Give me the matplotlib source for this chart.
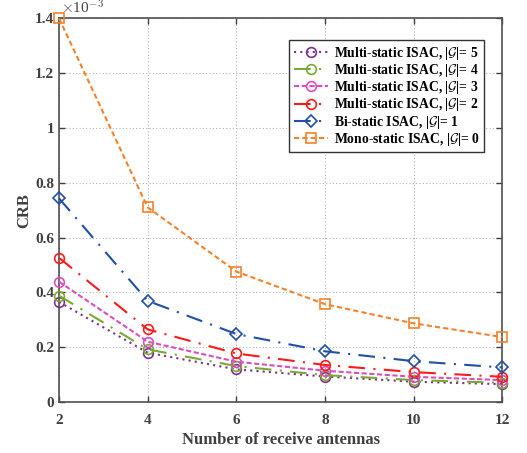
import matplotlib
matplotlib.use("Agg")
import matplotlib.pyplot as plt
from matplotlib.ticker import FuncFormatter

plt.rcParams['font.family'] = ['Liberation Serif', 'DejaVu Serif']
plt.rcParams['font.weight'] = 'bold'
plt.rcParams['mathtext.fontset'] = 'cm'

antennas = [2, 4, 6, 8, 10, 12]

crb_multi5 = [0.365e-3, 0.180e-3, 0.119e-3, 0.093e-3, 0.074e-3, 0.065e-3]
crb_multi4 = [0.388e-3, 0.192e-3, 0.131e-3, 0.098e-3, 0.080e-3, 0.070e-3]
crb_multi3 = [0.439e-3, 0.220e-3, 0.147e-3, 0.114e-3, 0.092e-3, 0.080e-3]
crb_multi2 = [0.526e-3, 0.265e-3, 0.177e-3, 0.135e-3, 0.109e-3, 0.092e-3]
crb_bi1 = [0.743e-3, 0.369e-3, 0.248e-3, 0.185e-3, 0.149e-3, 0.126e-3]
crb_mono0 = [1.400e-3, 0.710e-3, 0.476e-3, 0.357e-3, 0.287e-3, 0.237e-3]

labels = [
    r"Multi-static ISAC, |$\mathcal{G}$|= 5",
    r"Multi-static ISAC, |$\mathcal{G}$|= 4",
    r"Multi-static ISAC, |$\mathcal{G}$|= 3",
    r"Multi-static ISAC, |$\mathcal{G}$|= 2",
    r"Bi-static ISAC, |$\mathcal{G}$|= 1",
    r"Mono-static ISAC, |$\mathcal{G}$|= 0",
]

fig = plt.figure(figsize=(5.27, 4.53), dpi=100)
ax = fig.add_axes([0.112, 0.1126, 0.841, 0.847])

styles = [
    (crb_multi5, '#7E2F8E', (0, (1, 2)), 'o'),
    (crb_multi4, '#77AC30', (0, (8, 4, 1, 4)), 'o'),
    (crb_multi3, '#D94FBF', (0, (2.5, 1.2)), 'o'),
    (crb_multi2, '#FF1A1A', (0, (8, 4, 1, 4)), 'o'),
    (crb_bi1, '#1F4FA8', (0, (8, 4, 1, 4)), 'D'),
    (crb_mono0, '#F5822A', (0, (2.5, 1.5)), 's'),
]

for (vals, color, ls, mk), lab in zip(styles, labels):
    ax.plot(antennas, vals, color=color, linestyle=ls, linewidth=1.5,
            marker=mk, markersize=7 if mk != 'D' else 6,
            markerfacecolor='none', markeredgewidth=1.2, label=lab,
            clip_on=False, zorder=3)

ax.set_xlim(2, 12)
ax.set_ylim(0, 1.4e-3)
ax.set_xticks(antennas)
ax.set_yticks([i * 0.2e-3 for i in range(8)])
ax.yaxis.set_major_formatter(FuncFormatter(lambda v, p: f"{v * 1e3:g}"))
ax.text(0.005, 1.003, r"$\times$10$^{-3}$", transform=ax.transAxes,
        fontsize=11, color='#444444', ha='left', va='bottom', fontweight='normal')

ax.grid(True, linestyle=(0, (1, 2)), color='#B0B0B0', linewidth=0.8)
ax.tick_params(direction='in', top=True, right=True, labelsize=11,
               colors='#404040', length=4, width=1)
ax.tick_params(axis='x', pad=9)
for lab in ax.get_xticklabels() + ax.get_yticklabels():
    lab.set_fontweight('bold')
for sp in ax.spines.values():
    sp.set_color('#505050')
    sp.set_linewidth(1.2)

ax.set_xlabel("Number of receive antennas", fontsize=12, fontweight='bold',
              color='#404040', labelpad=3)
ax.set_ylabel("CRB", fontsize=12, fontweight='bold', color='#404040', labelpad=2)

leg = ax.legend(loc='upper right', bbox_to_anchor=(0.975, 0.96),
                prop={'family': 'Liberation Serif', 'weight': 'bold', 'size': 9.8},
                handlelength=2.5, handletextpad=0.5, labelspacing=0.02,
                borderpad=0.3, fancybox=False, framealpha=1, edgecolor='#333333')
leg.get_frame().set_linewidth(1.0)

fig.savefig("out.png", dpi=100)
